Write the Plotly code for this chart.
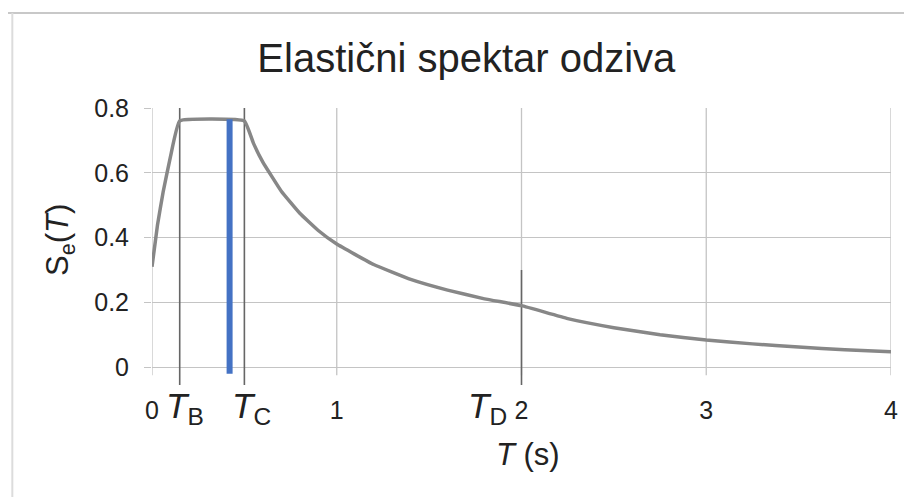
import plotly.graph_objects as go

# ---- data ----
period_T = [0.0, 0.03, 0.06, 0.10, 0.15, 0.50, 0.55, 0.60, 0.70, 0.80, 0.90, 1.00,
            1.20, 1.40, 1.60, 1.80, 2.00, 2.25, 2.50, 2.75, 3.00, 3.25, 3.50, 3.75, 4.00]
spectrum_Se = [0.31, 0.44, 0.54, 0.65, 0.76, 0.76, 0.69, 0.633, 0.543, 0.475, 0.422, 0.38,
               0.317, 0.271, 0.238, 0.211, 0.19, 0.150, 0.122, 0.100, 0.084, 0.072, 0.062, 0.054, 0.048]

x_ticks = [0, 1, 2, 3, 4]
x_tick_text = ["0", "1", "2", "3", "4"]
y_ticks = [0, 0.2, 0.4, 0.6, 0.8]
y_tick_text = ["0", "0.2", "0.4", "0.6", "0.8"]

corner_letters = ["B", "C", "D"]
corner_T = [0.15, 0.5, 2.0]
corner_top = [0.8, 0.8, 0.30]
corner_bottom = -0.055
corner_label_shift = [5, 7, -34]

marker_T = 0.42
marker_range = [-0.02, 0.765]

grid_bottom = -0.025

FONT = "Liberation Sans, Arial, sans-serif"
GRID = "#c4c4c4"
TXT = "#222222"

fig = go.Figure()

# vertical gridlines (drawn as a trace so they stop just below zero)
gx, gy = [], []
for v in x_ticks:
    gx += [v, v, None]
    gy += [grid_bottom, y_ticks[-1], None]
fig.add_trace(go.Scatter(x=gx, y=gy, mode="lines", line=dict(color=GRID, width=1.3),
                         hoverinfo="skip", showlegend=False))

# corner period lines
for t, top in zip(corner_T, corner_top):
    fig.add_trace(go.Scatter(x=[t, t], y=[corner_bottom, top], mode="lines",
                             line=dict(color="#666666", width=1.6),
                             hoverinfo="skip", showlegend=False))

# spectrum curve
fig.add_trace(go.Scatter(x=period_T, y=spectrum_Se, mode="lines",
                         line=dict(color="#878787", width=3.5, shape="spline", smoothing=0.3),
                         showlegend=False))

# blue marker line
fig.add_trace(go.Scatter(x=[marker_T, marker_T], y=marker_range, mode="lines",
                         line=dict(color="#4472C4", width=6), showlegend=False))

# corner labels
for letter, t, sh in zip(corner_letters, corner_T, corner_label_shift):
    fig.add_annotation(x=t, y=0, xref="x", yref="paper", yanchor="top",
                       text="<i>T</i><sub>" + letter + "</sub>",
                       showarrow=False, xshift=sh, yshift=2,
                       font=dict(family=FONT, size=35, color=TXT))

fig.update_layout(
    width=904, height=489,
    margin=dict(l=144, r=21, t=100, b=111),
    paper_bgcolor="white", plot_bgcolor="white",
    font=dict(family=FONT, size=25, color=TXT),
    title=dict(text="Elastični spektar odziva", x=0.507, xanchor="center",
               y=0.898, yanchor="middle", yref="container",
               font=dict(family=FONT, size=40, color=TXT)),
    xaxis=dict(range=[0, 4], tickvals=x_ticks, ticktext=x_tick_text, showgrid=False,
               zeroline=False, showline=False, ticks="", tickfont=dict(size=25),
               ticklabelstandoff=7),
    yaxis=dict(range=[-0.058, 0.8], tickvals=y_ticks, ticktext=y_tick_text,
               showgrid=True, gridcolor=GRID, gridwidth=1.3, zeroline=False,
               showline=False, ticks="outside", ticklen=7, tickcolor=GRID, tickwidth=1.3,
               tickfont=dict(size=25), ticklabelstandoff=10),
    showlegend=False,
)

# axis titles
fig.add_annotation(x=0.5, y=-0.24, xref="paper", yref="paper", xshift=6, yshift=-2,
                   text="<i>T</i> (s)", showarrow=False, yanchor="middle",
                   font=dict(family=FONT, size=31, color=TXT))
fig.add_annotation(x=0, y=0.5, xref="paper", yref="paper", xshift=-92, yshift=7,
                   text="S<sub>e</sub>(<i>T</i>)", showarrow=False, textangle=-90,
                   xanchor="center", yanchor="middle",
                   font=dict(family=FONT, size=31, color=TXT))

# scanned-frame border
fig.add_shape(type="line", xref="paper", yref="paper", x0=-0.2, x1=1.05, y0=1.342, y1=1.342,
              line=dict(color="#c8c8c8", width=2))
fig.add_shape(type="line", xref="paper", yref="paper", x0=-0.189, x1=-0.189, y0=1.342, y1=-0.45,
              line=dict(color="#dcdcdc", width=2))

fig.write_html("out.html")
